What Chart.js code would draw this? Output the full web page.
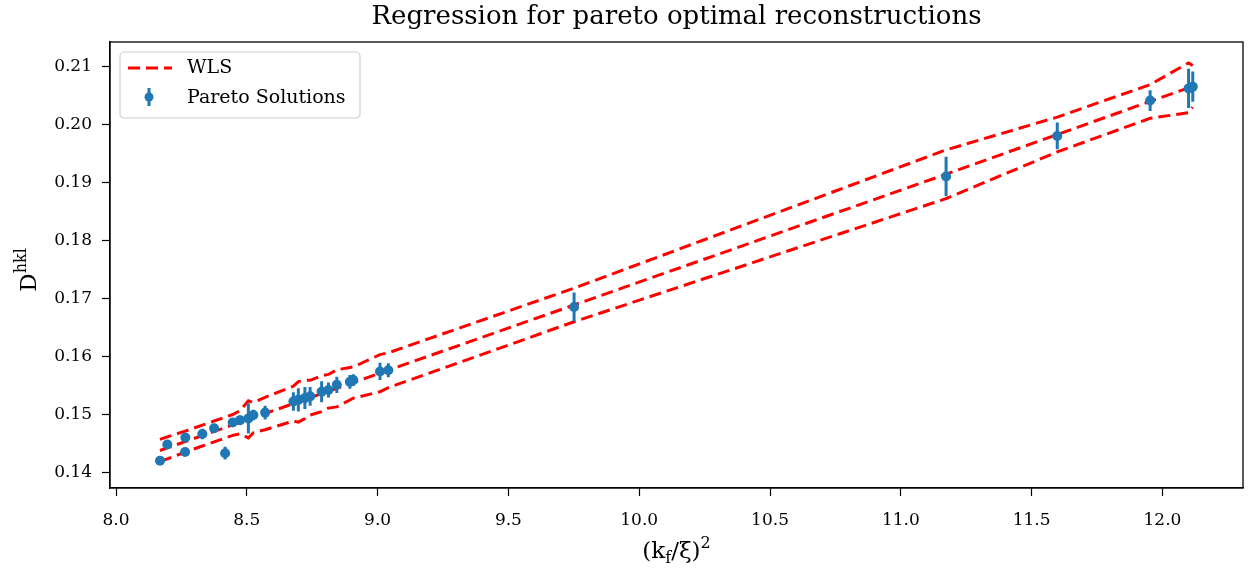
<!DOCTYPE html>
<html>
<head>
<meta charset="utf-8">
<script src="https://cdn.jsdelivr.net/npm/chart.js@4.4.1/dist/chart.umd.min.js"></script>
<style>
  html, body { margin: 0; padding: 0; background: #fff; }
  #wrap { width: 1248px; height: 571px; }
</style>
</head>
<body>
<div id="wrap"><canvas id="graph"></canvas></div>
<script>
// pareto solutions: (kf/xi)^2, D_hkl and its uncertainty
const kfXi2 = [8.168, 8.196, 8.264, 8.265, 8.330, 8.375, 8.417, 8.446, 8.474, 8.506,
  8.525, 8.570, 8.678, 8.697, 8.722, 8.742, 8.786, 8.812, 8.844, 8.894,
  8.907, 9.009, 9.041, 9.751, 11.173, 11.598, 11.953, 12.100, 12.116];
const dhkl = [0.1421, 0.1449, 0.1436, 0.1461, 0.1467, 0.1477, 0.1434, 0.1487, 0.1491, 0.1494,
  0.1500, 0.1504, 0.1523, 0.1526, 0.1529, 0.1532, 0.1540, 0.1543, 0.1552, 0.1557,
  0.1560, 0.1575, 0.1577, 0.1686, 0.1911, 0.1981, 0.2042, 0.2063, 0.2066];
const dhklErr = [0.0007, 0.0007, 0.0007, 0.0008, 0.0009, 0.0007, 0.0011, 0.0007, 0.0008, 0.0026,
  0.0009, 0.0012, 0.0016, 0.0020, 0.0019, 0.0016, 0.0018, 0.0013, 0.0014, 0.0012,
  0.0010, 0.0015, 0.0012, 0.0025, 0.0034, 0.0023, 0.0018, 0.0034, 0.0026];

// WLS fit at the same x positions and the half width of its band
const wlsFit = [0.14387, 0.14431, 0.14539, 0.14541, 0.14644, 0.14715, 0.14781, 0.14827, 0.14872, 0.14923,
  0.14953, 0.15024, 0.15195, 0.15225, 0.15265, 0.15297, 0.15366, 0.15408, 0.15458, 0.15538,
  0.15558, 0.15720, 0.15771, 0.16896, 0.19150, 0.19835, 0.20405, 0.20640, 0.20665];
const wlsBand = [0.0019, 0.0019, 0.0018, 0.0018, 0.0018, 0.0018, 0.0018, 0.0018, 0.0020, 0.0032,
  0.0026, 0.0028, 0.0030, 0.0035, 0.0033, 0.0030, 0.0031, 0.0029, 0.0032, 0.0028,
  0.0027, 0.0032, 0.0030, 0.0029, 0.0042, 0.0030, 0.0029, 0.0043, 0.0036];

const xTicks = [8.0, 8.5, 9.0, 9.5, 10.0, 10.5, 11.0, 11.5, 12.0];
const yTicks = [0.14, 0.15, 0.16, 0.17, 0.18, 0.19, 0.20, 0.21];

const BLUE = "#1f77b4";
const FONT = "'DejaVu Serif', serif";
const DASH = [12, 6];

let points = kfXi2.map((x, i) => ({ x: x, y: dhkl[i] }));
let fitLine = kfXi2.map((x, i) => ({ x: x, y: wlsFit[i] }));
let upper = kfXi2.map((x, i) => ({ x: x, y: wlsFit[i] + wlsBand[i] }));
let lower = kfXi2.map((x, i) => ({ x: x, y: wlsFit[i] - wlsBand[i] }));

// vertical error bars as separate segments, broken by null
let errSegs = [];
kfXi2.forEach((x, i) => {
  errSegs.push({ x: x, y: dhkl[i] - dhklErr[i] });
  errSegs.push({ x: x, y: dhkl[i] + dhklErr[i] });
  errSegs.push({ x: x, y: null });
});

function wlsDataset(data) {
  return {
    type: "line",
    data: data,
    borderColor: "#ff0000",
    borderWidth: 3,
    borderDash: DASH,
    segment: { borderDash: () => DASH },
    borderCapStyle: "butt",
    pointRadius: 0,
    fill: false,
    tension: 0,
    order: 3,
  };
}

// frame, title, axis labels and legend
const decorations = {
  id: "decorations",
  afterDraw(chart) {
    const ctx = chart.ctx;
    const a = chart.chartArea;
    ctx.save();
    ctx.strokeStyle = "#000";
    ctx.lineWidth = 1.3;
    ctx.strokeRect(a.left, a.top, a.right - a.left, a.bottom - a.top);

    ctx.fillStyle = "#000";
    ctx.textBaseline = "alphabetic";
    ctx.textAlign = "center";
    ctx.font = "26px " + FONT;
    ctx.fillText("Regression for pareto optimal reconstructions", (a.left + a.right) / 2, 24);

    // x label: (k_f / ξ)^2
    ctx.textAlign = "left";
    let big = "23px " + FONT, small = "16px " + FONT;
    let parts = [["(k", big, 0], ["f", small, 5], ["/ξ)", big, 0], ["2", small, -10]];
    let total = 0;
    parts.forEach((p) => { ctx.font = p[1]; total += ctx.measureText(p[0]).width; });
    let px = (a.left + a.right) / 2 - total / 2;
    parts.forEach((p) => {
      ctx.font = p[1];
      ctx.fillText(p[0], px, 558 + p[2]);
      px += ctx.measureText(p[0]).width;
    });

    // y label: D^hkl
    ctx.translate(36, (a.top + a.bottom) / 2 + 5);
    ctx.rotate(-Math.PI / 2);
    ctx.font = big;
    let wD = ctx.measureText("D").width;
    ctx.font = small;
    let wS = ctx.measureText("hkl").width;
    let sx = -(wD + wS) / 2;
    ctx.font = big;
    ctx.fillText("D", sx, 0);
    ctx.font = small;
    ctx.fillText("hkl", sx + wD, -10);
    ctx.restore();

    // legend box
    ctx.save();
    let lx = a.left + 10, ly = a.top + 10, lw = 240, lh = 66;
    ctx.beginPath();
    ctx.roundRect(lx, ly, lw, lh, 4);
    ctx.fillStyle = "rgba(255,255,255,0.8)";
    ctx.fill();
    ctx.strokeStyle = "#d0d0d0";
    ctx.lineWidth = 1.2;
    ctx.stroke();

    ctx.strokeStyle = "#ff0000";
    ctx.lineWidth = 3;
    ctx.setLineDash(DASH);
    ctx.beginPath();
    ctx.moveTo(lx + 8, ly + 16);
    ctx.lineTo(lx + 52, ly + 16);
    ctx.stroke();
    ctx.setLineDash([]);

    ctx.strokeStyle = BLUE;
    ctx.beginPath();
    ctx.moveTo(lx + 29, ly + 36);
    ctx.lineTo(lx + 29, ly + 54);
    ctx.stroke();
    ctx.fillStyle = BLUE;
    ctx.beginPath();
    ctx.arc(lx + 29, ly + 45, 4.5, 0, Math.PI * 2);
    ctx.fill();

    ctx.fillStyle = "#000";
    ctx.font = "19px " + FONT;
    ctx.textBaseline = "middle";
    ctx.fillText("WLS", lx + 67, ly + 16);
    ctx.fillText("Pareto Solutions", lx + 67, ly + 46);
    ctx.restore();
  },
};

const ctx = document.getElementById("graph").getContext("2d");
const myChart = new Chart(ctx, {
  type: "scatter",
  data: {
    datasets: [
      {
        label: "Pareto Solutions",
        data: points,
        backgroundColor: BLUE,
        borderColor: BLUE,
        pointRadius: 5,
        pointBorderWidth: 0,
        order: 1,
      },
      {
        type: "line",
        data: errSegs,
        borderColor: BLUE,
        borderWidth: 3,
        pointRadius: 0,
        spanGaps: false,
        order: 2,
      },
      wlsDataset(upper),
      wlsDataset(fitLine),
      wlsDataset(lower),
    ],
  },
  options: {
    responsive: true,
    maintainAspectRatio: false,
    animation: false,
    devicePixelRatio: 1,
    layout: { padding: { left: 0, right: 5, top: 42, bottom: 23 } },
    plugins: { legend: { display: false }, tooltip: { enabled: false } },
    scales: {
      x: {
        type: "linear",
        min: 7.977,
        max: 12.308,
        afterFit: (scale) => { scale.height = 60; },
        afterBuildTicks: (scale) => { scale.ticks = xTicks.map((v) => ({ value: v })); },
        ticks: {
          color: "#000",
          font: { family: FONT, size: 17 },
          padding: 14,
          maxRotation: 0,
          callback: (v) => v.toFixed(1),
        },
        grid: { drawOnChartArea: false, drawTicks: true, tickLength: 8, tickColor: "#000", tickWidth: 1.2 },
        border: { display: true, color: "#000", width: 1.3 },
      },
      y: {
        type: "linear",
        min: 0.1374,
        max: 0.2143,
        afterFit: (scale) => { scale.width = 110; },
        afterBuildTicks: (scale) => { scale.ticks = yTicks.map((v) => ({ value: v })); },
        ticks: {
          color: "#000",
          font: { family: FONT, size: 17 },
          padding: 10,
          callback: (v) => v.toFixed(2),
        },
        grid: { drawOnChartArea: false, drawTicks: true, tickLength: 8, tickColor: "#000", tickWidth: 1.2 },
        border: { display: true, color: "#000", width: 1.3 },
      },
    },
  },
  plugins: [decorations],
});
</script>
</body>
</html>
